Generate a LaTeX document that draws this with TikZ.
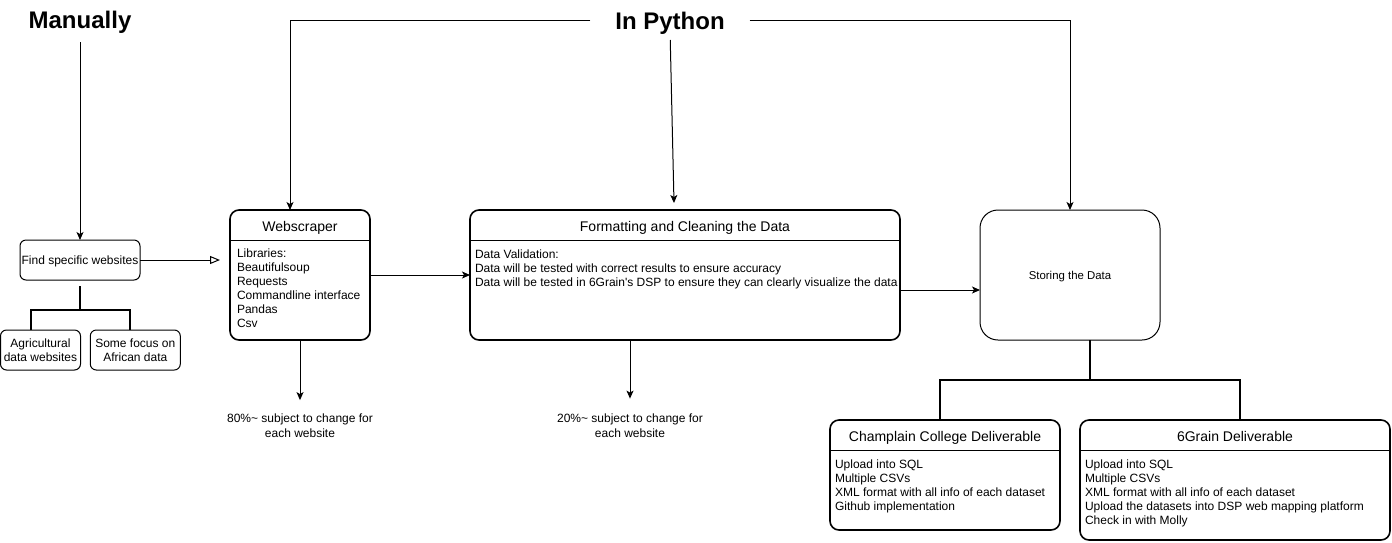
\documentclass[tikz,border=0pt]{standalone}
\usepackage{fontspec}
\setmainfont{Liberation Sans}
\usetikzlibrary{arrows.meta}
\begin{document}
\begin{tikzpicture}[x=1pt,y=-1pt,
  every node/.style={inner sep=0pt, outer sep=0pt},
  bigbox/.style={draw, line width=1.6pt, rounded corners=9pt},
  thinbox/.style={draw, line width=1pt, rounded corners=6pt},
  ttl/.style={font=\fontsize{14}{16}\selectfont, text height=10pt, text depth=0pt},
  body/.style={font=\fontsize{12}{14}\selectfont, align=left, anchor=north west},
  capt/.style={font=\fontsize{12}{15}\selectfont, align=center},
  small/.style={font=\fontsize{12}{14}\selectfont, align=center},
  head/.style={font=\bfseries\fontsize{24}{28}\selectfont, text height=17pt, text depth=0pt},
  arr/.style={line width=1pt, -{Stealth[length=8pt,width=7pt,inset=2pt]}},
  tree/.style={line width=2pt},
  divider/.style={line width=1.6pt},
]
\useasboundingbox (0,0) rectangle (1392,542);

% headings
\node[head] (man) at (80,20) {Manually};
\node[head, inner xsep=25pt] (py) at (670,20.7) {In Python};

% left column
\node[thinbox, minimum width=120pt, minimum height=40pt, font=\fontsize{12}{14}\selectfont, text height=8.6pt, text depth=0pt] (find) at (80,260) {Find specific websites};
\node[thinbox, minimum width=80pt, minimum height=40pt, small] (agri) at (40.5,350) {Agricultural\\data websites};
\node[thinbox, minimum width=90pt, minimum height=40pt, small] (some) at (135.3,350) {Some focus on\\African data};

% Webscraper
\node[bigbox, minimum width=140pt, minimum height=130pt] (web) at (300,275) {};
\node[ttl] (webt) at (300,226) {Webscraper};
\draw[divider] (web.west |- 0,240.5) -- (web.east |- 0,240.5);
\node[body] (webb) at (237,248.7) {Libraries:\\Beautifulsoup\\Requests\\Commandline interface\\Pandas\\Csv};

% Formatting
\node[bigbox, minimum width=430pt, minimum height=130pt] (fmt) at (685,275) {};
\node[ttl] (fmtt) at (685,226) {Formatting and Cleaning the Data};
\draw[divider] (fmt.west |- 0,240.5) -- (fmt.east |- 0,240.5);
\node[body] (fmtb) at (475,249.5) {Data Validation:\\Data will be tested with correct results to ensure accuracy\\Data will be tested in 6Grain\textquotesingle s DSP to ensure they can clearly visualize the data};

% Storing
\node[draw, line width=1pt, rounded corners=18pt, minimum width=180pt, minimum height=130pt, font=\fontsize{11.4}{13}\selectfont, text height=8.2pt, text depth=0pt] (store) at (1070,275) {Storing the Data};

% Deliverables
\node[bigbox, minimum width=230pt, minimum height=110pt] (champ) at (945,475) {};
\node[ttl] (champt) at (945,436.5) {Champlain College Deliverable};
\draw[divider] (champ.west |- 0,450.5) -- (champ.east |- 0,450.5);
\node[body] (champb) at (835,459.7) {Upload into SQL\\Multiple CSVs\\XML format with all info of each dataset\\Github implementation};

\node[bigbox, minimum width=310pt, minimum height=120pt] (grain) at (1235,480) {};
\node[ttl] (graint) at (1235,436.5) {6Grain Deliverable};
\draw[divider] (grain.west |- 0,450.5) -- (grain.east |- 0,450.5);
\node[body] (grainb) at (1085,459.7) {Upload into SQL\\Multiple CSVs\\XML format with all info of each dataset\\Upload the datasets into DSP web mapping platform\\Check in with Molly};

% captions
\node[capt] (p80) at (300,425.5) {80\%\textasciitilde{} subject to change for\\each website};
\node[capt] (p20) at (630,425.5) {20\%\textasciitilde{} subject to change for\\each website};

% connectors
\draw[arr, shorten <=13.5pt] (man.south) -- (find.north);
\draw[arr] (py.west) -| ([xshift=-10pt]web.north);
\draw[arr] (py.east) -| (store.north);
\draw[arr, shorten <=10.8pt] (py.south) -- ([xshift=-11pt,yshift=7pt]fmt.north);

\coordinate (wsin) at (220,260);
\draw[line width=1pt, -{Triangle[open,length=10pt,width=8pt]}] (find.east) -- (wsin);
\draw[arr] (web.east) -- (fmt.west);
\draw[arr] ([yshift=-15pt]fmt.east) -- ([yshift=-15pt]store.west);

\draw[arr] (web.south) -- ([yshift=13.5pt]p80.north);
\draw[arr] (fmt.south -| p20.north) -- ([yshift=15pt]p20.north);

\coordinate (fj) at (80,310);
\draw[tree] ([yshift=-6pt]find.south) -- (fj);
\draw[tree] ([xshift=-10pt]agri.north) |- (fj) -| ([xshift=-5pt]some.north);

\coordinate (sj) at (1090,380);
\draw[tree] ([xshift=20pt]store.south) -- (sj);
\draw[tree] ([xshift=-5pt]champ.north) |- (sj) -| ([xshift=5pt]grain.north);
\end{tikzpicture}
\end{document}
